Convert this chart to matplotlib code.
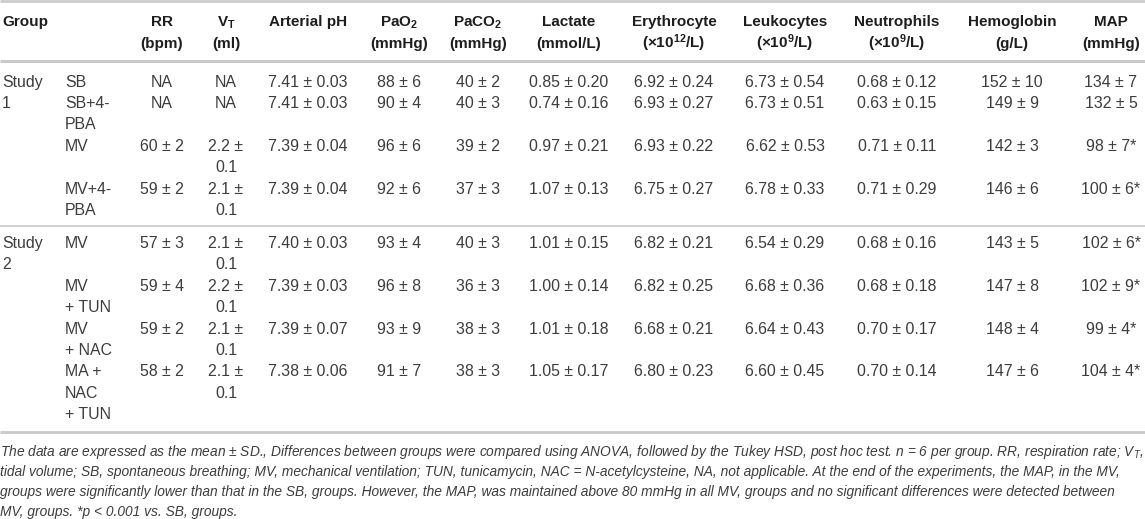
import textwrap
import matplotlib
matplotlib.use("Agg")
import matplotlib.pyplot as plt
from matplotlib import font_manager as fm

# ---------------- data ----------------
header_top = ["RR", r"V$_\mathdefault{T}$", "Arterial pH", r"PaO$_\mathdefault{2}$",
              r"PaCO$_\mathdefault{2}$", "Lactate", "Erythrocyte", "Leukocytes",
              "Neutrophils", "Hemoglobin", "MAP"]
header_bottom = ["(bpm)", "(ml)", "", "(mmHg)", "(mmHg)", "(mmol/L)",
                 r"(×10$^\mathdefault{12}$/L)", r"(×10$^\mathdefault{9}$/L)",
                 r"(×10$^\mathdefault{9}$/L)", "(g/L)", "(mmHg)"]

study_labels = ["Study\n1", "Study\n2"]
study_sizes = [4, 4]
subgroups = ["SB", "SB+4-\nPBA", "MV", "MV+4-\nPBA",
             "MV", "MV\n+ TUN", "MV\n+ NAC", "MA +\nNAC\n+ TUN"]

rr = ["NA", "NA", "60 ± 2", "59 ± 2", "57 ± 3", "59 ± 4", "59 ± 2", "58 ± 2"]
vt = ["NA", "NA", "2.2 ± 0.1", "2.1 ± 0.1", "2.1 ± 0.1", "2.2 ± 0.1", "2.1 ± 0.1", "2.1 ± 0.1"]
ph = ["7.41 ± 0.03", "7.41 ± 0.03", "7.39 ± 0.04", "7.39 ± 0.04",
      "7.40 ± 0.03", "7.39 ± 0.03", "7.39 ± 0.07", "7.38 ± 0.06"]
pao2 = ["88 ± 6", "90 ± 4", "96 ± 6", "92 ± 6", "93 ± 4", "96 ± 8", "93 ± 9", "91 ± 7"]
paco2 = ["40 ± 2", "40 ± 3", "39 ± 2", "37 ± 3", "40 ± 3", "36 ± 3", "38 ± 3", "38 ± 3"]
lactate = ["0.85 ± 0.20", "0.74 ± 0.16", "0.97 ± 0.21", "1.07 ± 0.13",
           "1.01 ± 0.15", "1.00 ± 0.14", "1.01 ± 0.18", "1.05 ± 0.17"]
erythrocyte = ["6.92 ± 0.24", "6.93 ± 0.27", "6.93 ± 0.22", "6.75 ± 0.27",
               "6.82 ± 0.21", "6.82 ± 0.25", "6.68 ± 0.21", "6.80 ± 0.23"]
leukocytes = ["6.73 ± 0.54", "6.73 ± 0.51", "6.62 ± 0.53", "6.78 ± 0.33",
              "6.54 ± 0.29", "6.68 ± 0.36", "6.64 ± 0.43", "6.60 ± 0.45"]
neutrophils = ["0.68 ± 0.12", "0.63 ± 0.15", "0.71 ± 0.11", "0.71 ± 0.29",
               "0.68 ± 0.16", "0.68 ± 0.18", "0.70 ± 0.17", "0.70 ± 0.14"]
hemoglobin = ["152 ± 10", "149 ± 9", "142 ± 3", "146 ± 6",
              "143 ± 5", "147 ± 8", "148 ± 4", "147 ± 6"]
map_vals = ["134 ± 7", "132 ± 5", "98 ± 7*", "100 ± 6*",
            "102 ± 6*", "102 ± 9*", "99 ± 4*", "104 ± 4*"]

columns = [rr, vt, ph, pao2, paco2, lactate, erythrocyte, leukocytes,
           neutrophils, hemoglobin, map_vals]

footnote_lines = [
    r"The data are expressed as the mean ± SD., Differences between groups were compared using ANOVA, followed by the Tukey HSD, post hoc test. n = 6 per group. RR, respiration rate; V$_\mathdefault{T}$,",
    "tidal volume; SB, spontaneous breathing; MV, mechanical ventilation; TUN, tunicamycin, NAC = N-acetylcysteine, NA, not applicable. At the end of the experiments, the MAP, in the MV,",
    "groups were significantly lower than that in the SB, groups. However, the MAP, was maintained above 80 mmHg in all MV, groups and no significant differences were detected between",
    "MV, groups. *p < 0.001 vs. SB, groups.",
]

# ---------------- layout ----------------
W, H = 1145, 519
col_x = [162, 226, 308, 399, 478, 569, 674, 785, 897, 1012, 1111]
col_wrap = [None, 5, None, None, None, None, None, None, None, None, None]
X_STUDY, X_SUB = 2, 65
LS = 21.4
HEAD_Y = [21, 43]
HEAD_RULE = 61
BODY_START = 81
RULE_GAP_BEFORE, RULE_GAP_AFTER = 17, 16
NOTE_Y0, NOTE_LS = 451, 20

available = {f.name for f in fm.fontManager.ttflist}
BODY_FONT = "Liberation Sans" if "Liberation Sans" in available else "DejaVu Sans"
NOTE_FONT = "Liberation Sans Narrow" if "Liberation Sans Narrow" in available else BODY_FONT

plt.rcParams["mathtext.fontset"] = "custom"
plt.rcParams["mathtext.rm"] = BODY_FONT
plt.rcParams["mathtext.bf"] = BODY_FONT + ":bold"
plt.rcParams["mathtext.it"] = BODY_FONT + ":italic"

BODY_SIZE = 11.4
HEAD_SIZE = 11.0
BODY_COLOR = "#3d3d3d"
HEAD_COLOR = "#1e1e1e"
RULE_COLOR = "#c9c9c9"

fig = plt.figure(figsize=(W / 100, H / 100), dpi=100)
ax = fig.add_axes([0, 0, 1, 1])
ax.set_xlim(0, W)
ax.set_ylim(H, 0)
ax.axis("off")

def px_to_pt(px):
    return px * 72 / 100

def put(x, yc, s, ha, size, weight="normal", color=BODY_COLOR, style="normal", family=None):
    off = 0.716 * size * 100 / 72 / 2
    return ax.text(x, yc + off, s, ha=ha, va="baseline", fontsize=size,
                   fontweight=weight, color=color, fontstyle=style,
                   family=family or BODY_FONT)

def rule(y, px, color=RULE_COLOR):
    ax.plot([0, W], [y, y], color=color, lw=px_to_pt(px), solid_capstyle="butt")

# header
rule(1.3, 2.6)
put(X_STUDY, HEAD_Y[0], "Group", "left", HEAD_SIZE, "bold", HEAD_COLOR)
for x, t, b in zip(col_x, header_top, header_bottom):
    put(x, HEAD_Y[0], t, "center", HEAD_SIZE, "bold", HEAD_COLOR)
    if b:
        put(x, HEAD_Y[1], b, "center", HEAD_SIZE, "bold", HEAD_COLOR)
rule(HEAD_RULE, 3.0)

# body
y = BODY_START
row = 0
for si, (slabel, n) in enumerate(zip(study_labels, study_sizes)):
    if si > 0:
        y = last_y + RULE_GAP_BEFORE
        rule(y, 1.5, "#c4c4c4")
        y += RULE_GAP_AFTER
    for k, line in enumerate(slabel.split("\n")):
        put(X_STUDY, y + k * LS, line, "left", BODY_SIZE)
    for r in range(row, row + n):
        nlines = 1
        sub_lines = subgroups[r].split("\n")
        for k, line in enumerate(sub_lines):
            put(X_SUB, y + k * LS, line, "left", BODY_SIZE)
        nlines = max(nlines, len(sub_lines))
        for x, col, wrap in zip(col_x, columns, col_wrap):
            s = col[r]
            lines = textwrap.wrap(s, wrap) if wrap else [s]
            for k, line in enumerate(lines):
                put(x, y + k * LS, line, "center", BODY_SIZE)
            nlines = max(nlines, len(lines))
        last_y = y + (nlines - 1) * LS
        y = last_y + LS
    row += n

bottom_rule_y = last_y + 18.5
rule(bottom_rule_y, 2.8)

# footnote, auto-fitted to the table width
renderer = fig.canvas.get_renderer()
probe = ax.text(0, 0, footnote_lines[0], fontsize=10, fontstyle="italic", family=NOTE_FONT)
w = probe.get_window_extent(renderer).width
probe.remove()
note_size = 10 * 1140 / w
for i, line in enumerate(footnote_lines):
    put(0, NOTE_Y0 + i * NOTE_LS, line, "left", note_size, color="#3d3d3d",
        style="italic", family=NOTE_FONT)

fig.savefig("out.png", dpi=100)
